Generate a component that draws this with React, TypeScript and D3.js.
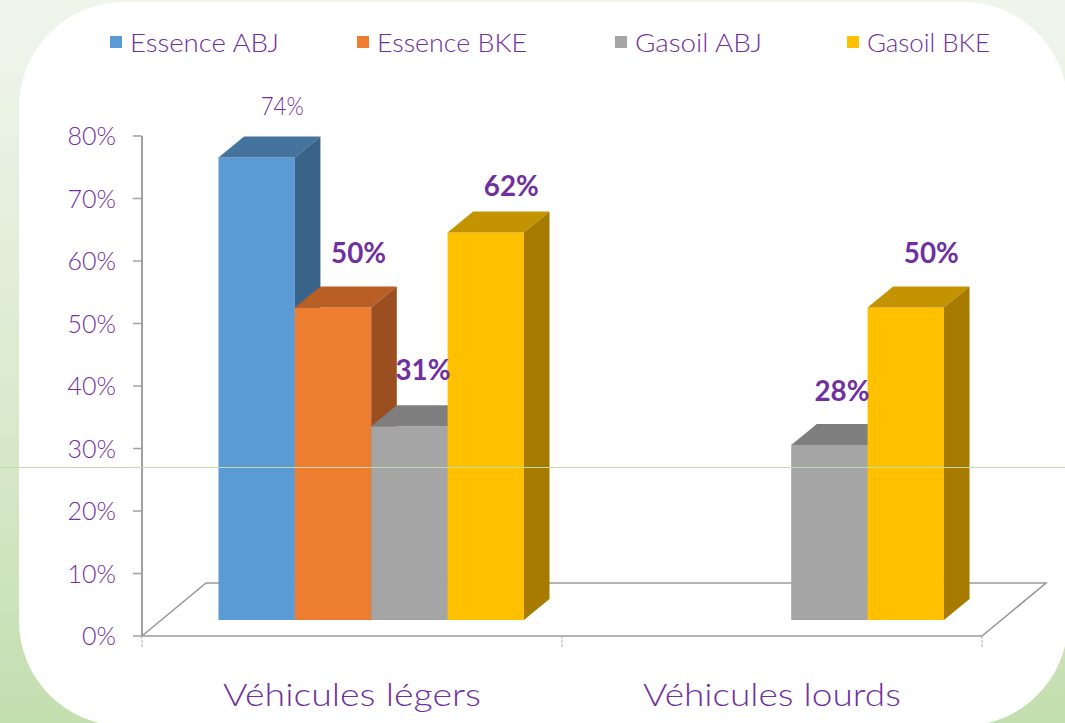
import React from "react";
import * as d3 from "d3";

const categories = ["Véhicules légers", "Véhicules lourds"];
const seriesNames = ["Essence ABJ", "Essence BKE", "Gasoil ABJ", "Gasoil BKE"];
const essenceABJ: (number | null)[] = [74, null];
const essenceBKE: (number | null)[] = [50, null];
const gasoilABJ: (number | null)[] = [31, 28];
const gasoilBKE: (number | null)[] = [62, 50];
const yTicks = [0, 10, 20, 30, 40, 50, 60, 70, 80];

const seriesValues = [essenceABJ, essenceBKE, gasoilABJ, gasoilBKE];
const frontColors = ["#5B9BD5", "#ED7D31", "#A5A5A5", "#FFC000"];
const topColors = ["#44739E", "#B95E25", "#7F7F7F", "#C49300"];
const sideColors = ["#3A6389", "#9B4E1F", "#6F6F6F", "#A67B00"];
// label styling per series (bold except first)
const labelBold = [false, true, true, true];
// small manual nudges for label placement [series][category] -> [dx, dy]
const labelNudge: [number, number][][] = [
  [[0, 2], [0, 0]],
  [[0, 0], [0, 0]],
  [[-12, -2], [-13, 0]],
  [[0, 8], [0, 0]],
];

const W = 1065;
const H = 723;
const PURPLE = "#7030A0";
const FONT = "Lato, 'Open Sans', 'DejaVu Sans', sans-serif";

export default function App() {
  const x0 = 142;
  const x1 = 982;
  const yBase = 636;
  const floorDx = 64;
  const floorDy = -53;
  const dFront = 0.3;
  const dBack = 0.7;
  const fx = floorDx * dFront;
  const fy = floorDy * dFront;
  const bdx = floorDx * (dBack - dFront);
  const bdy = floorDy * (dBack - dFront);

  const xBand = d3.scaleBand<string>().domain(categories).range([x0, x1]).padding(0);
  const inner = d3
    .scaleBand<string>()
    .domain(seriesNames)
    .range([0, xBand.bandwidth()])
    .paddingInner(0)
    .paddingOuter(0.75);
  const yAxis = d3.scaleLinear().domain([0, 80]).range([yBase, yBase - 500]);
  const yBar = d3.scaleLinear().domain([0, 80]).range([yBase + fy, yBase + fy - 500]);

  const bars: React.ReactNode[] = [];
  const labels: React.ReactNode[] = [];
  categories.forEach((cat, ci) => {
    seriesNames.forEach((s, si) => {
      const v = seriesValues[si][ci];
      if (v == null) return;
      const bx = (xBand(cat) as number) + fx + (inner(s) as number);
      const bw = inner.bandwidth();
      const yt = yBar(v);
      const yb = yBar(0);
      const front = `M${bx},${yb}L${bx + bw},${yb}L${bx + bw},${yt}L${bx},${yt}Z`;
      const top = `M${bx},${yt}L${bx + bw},${yt}L${bx + bw + bdx},${yt + bdy}L${bx + bdx},${yt + bdy}Z`;
      const side = `M${bx + bw},${yb}L${bx + bw + bdx},${yb + bdy}L${bx + bw + bdx},${yt + bdy}L${bx + bw},${yt}Z`;
      bars.push(
        <g key={`b-${ci}-${si}`}>
          <path d={front} fill={frontColors[si]} />
          <path d={top} fill={topColors[si]} />
          <path d={side} fill={sideColors[si]} />
        </g>
      );
      const [ndx, ndy] = labelNudge[si][ci];
      const lx = bx + bw / 2 + bdx + ndx;
      const ly = yt + bdy - 23 + ndy;
      labels.push(
        <text
          key={`l-${ci}-${si}`}
          x={lx}
          y={ly}
          textAnchor="middle"
          fontFamily={FONT}
          fontSize={labelBold[si] ? 28 : 26}
          fontWeight={labelBold[si] ? 700 : 300}
          fill={PURPLE}
          textLength={labelBold[si] ? 55 : 43}
          lengthAdjust="spacingAndGlyphs"
        >
          {`${v}%`}
        </text>
      );
    });
  });

  const legendX = [110, 357, 615, 847];
  const legendW = [149, 150, 127, 123];
  const floorPath = `M${x0},${yBase}L${x0 + floorDx},${yBase + floorDy}L${x1 + floorDx},${yBase + floorDy}L${x1},${yBase}Z`;

  return (
    <svg
      width={W}
      height={H}
      style={{ position: "absolute", left: 0, top: 0 }}
      xmlns="http://www.w3.org/2000/svg"
    >
      <defs>
        <linearGradient id="bg" x1="0" y1="0" x2="0" y2="1">
          <stop offset="0" stopColor="#F0F5EC" />
          <stop offset="0.5" stopColor="#DDEBD2" />
          <stop offset="1" stopColor="#C3DEAF" />
        </linearGradient>
      </defs>
      <rect x={0} y={0} width={W} height={H} fill="url(#bg)" />
      <rect x={19} y={2} width={1049} height={724} rx={105} ry={105} fill="#FFFFFF" />

      {/* legend */}
      {seriesNames.map((s, i) => (
        <g key={s}>
          <rect x={legendX[i]} y={36} width={12} height={12} fill={frontColors[i]} />
          <text
            x={legendX[i] + 20}
            y={52}
            fontFamily={FONT}
            fontSize={25}
            fontWeight={300}
            fill={PURPLE}
            textLength={legendW[i]}
            lengthAdjust="spacingAndGlyphs"
          >
            {s}
          </text>
        </g>
      ))}

      {/* floor */}
      <path d={floorPath} fill="#FFFFFF" stroke="#9A9A9A" strokeWidth={1.6} />

      {/* y axis */}
      <line x1={x0} x2={x0} y1={yAxis(80)} y2={yBase} stroke="#A0A0A0" strokeWidth={2} />
      {yTicks.map((t) => (
        <g key={t}>
          <line x1={x0 - 9} x2={x0} y1={yAxis(t)} y2={yAxis(t)} stroke="#A0A0A0" strokeWidth={1.5} />
          <text
            x={116}
            y={yAxis(t) + 9}
            textAnchor="end"
            fontFamily={FONT}
            fontSize={25}
            fontWeight={300}
            fill={PURPLE}
          >
            {`${t}%`}
          </text>
        </g>
      ))}

      {/* category ticks */}
      {[x0, ...categories.map((c) => (xBand(c) as number) + xBand.bandwidth())].map((tx, i) => (
        <line
          key={`ct-${i}`}
          x1={tx}
          x2={tx}
          y1={yBase}
          y2={yBase + 11}
          stroke="#B5B5B5"
          strokeWidth={1}
          strokeDasharray="3,1"
        />
      ))}

      {bars}
      {labels}

      {/* category labels */}
      {categories.map((c) => (
        <text
          key={c}
          x={(xBand(c) as number) + xBand.bandwidth() / 2}
          y={706}
          textAnchor="middle"
          fontFamily={FONT}
          fontSize={32}
          fontWeight={300}
          fill={PURPLE}
          textLength={258}
          lengthAdjust="spacingAndGlyphs"
        >
          {c}
        </text>
      ))}

      {/* thin horizontal green line */}
      <line x1={0} x2={W} y1={467.5} y2={467.5} stroke="#BFDDA9" strokeWidth={1} />
    </svg>
  );
}
